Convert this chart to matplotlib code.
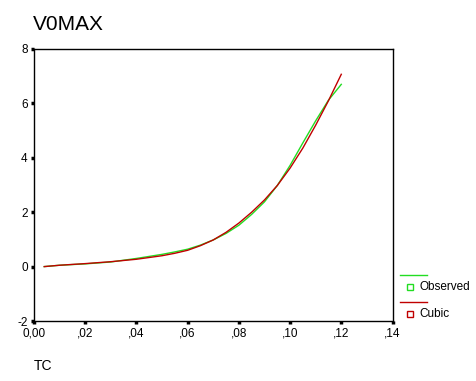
import matplotlib
matplotlib.use("Agg")
import matplotlib.pyplot as plt
from matplotlib.lines import Line2D

plt.rcParams['font.family'] = ['Liberation Sans', 'DejaVu Sans']

# Data
tc = [0.004, 0.01, 0.02, 0.03, 0.04, 0.05, 0.055, 0.06, 0.065, 0.07, 0.075,
      0.08, 0.085, 0.09, 0.095, 0.10, 0.105, 0.11, 0.115, 0.12]
observed = [0.00, 0.05, 0.10, 0.17, 0.30, 0.45, 0.54, 0.64, 0.79, 0.98, 1.22,
            1.52, 1.92, 2.38, 2.98, 3.72, 4.55, 5.36, 6.12, 6.70]
cubic = [0.00, 0.05, 0.11, 0.18, 0.27, 0.40, 0.49, 0.60, 0.77, 0.98, 1.26,
         1.60, 2.00, 2.45, 2.98, 3.62, 4.36, 5.20, 6.10, 7.07]

xticks = [0.00, 0.02, 0.04, 0.06, 0.08, 0.10, 0.12, 0.14]
xticklabels = ['0,00', ',02', ',04', ',06', ',08', ',10', ',12', ',14']
yticks = [-2, 0, 2, 4, 6, 8]
yticklabels = ['-2', '0', '2', '4', '6', '8']

GREEN = '#22dd22'
RED = '#c00000'

fig = plt.figure(figsize=(4.76, 3.81), dpi=100)
ax = fig.add_axes([34/476, 1-321/381, (392.5-34)/476, (321-49)/381])

ax.plot(tc, observed, color=GREEN, lw=1.0)
ax.plot(tc, cubic, color=RED, lw=1.0)

ax.set_xlim(0, 0.14)
ax.set_ylim(-2, 8)
ax.set_xticks(xticks)
ax.set_xticklabels(xticklabels)
ax.set_yticks(yticks)
ax.set_yticklabels(yticklabels)
ax.tick_params(direction='out', length=2.5, width=2.5, labelsize=8.5, pad=2,
               colors='black')
for s in ax.spines.values():
    s.set_linewidth(1.0)
    s.set_color('black')

fig.text(33/476, 1-25/381, 'V0MAX', fontsize=15, va='center', ha='left')
fig.text(34/476, 1-366/381, 'TC', fontsize=10, va='center', ha='left')

# Legend drawn outside the axes on the right
def fx(px):
    return px / 476

def fy(py):
    return 1 - py / 381

fig.add_artist(Line2D([fx(400), fx(427)], [fy(275), fy(275)], color=GREEN, lw=1.0))
fig.add_artist(Line2D([fx(410)], [fy(287)], marker='s', ms=4, mfc='white',
                      mec=GREEN, mew=1.0, ls='none'))
fig.text(fx(419), fy(287), 'Observed', fontsize=8.5, va='center', ha='left')
fig.add_artist(Line2D([fx(400), fx(427)], [fy(302), fy(302)], color=RED, lw=1.0))
fig.add_artist(Line2D([fx(410)], [fy(314)], marker='s', ms=4, mfc='white',
                      mec=RED, mew=1.0, ls='none'))
fig.text(fx(419), fy(314), 'Cubic', fontsize=8.5, va='center', ha='left')

fig.savefig('out.png', dpi=100)
